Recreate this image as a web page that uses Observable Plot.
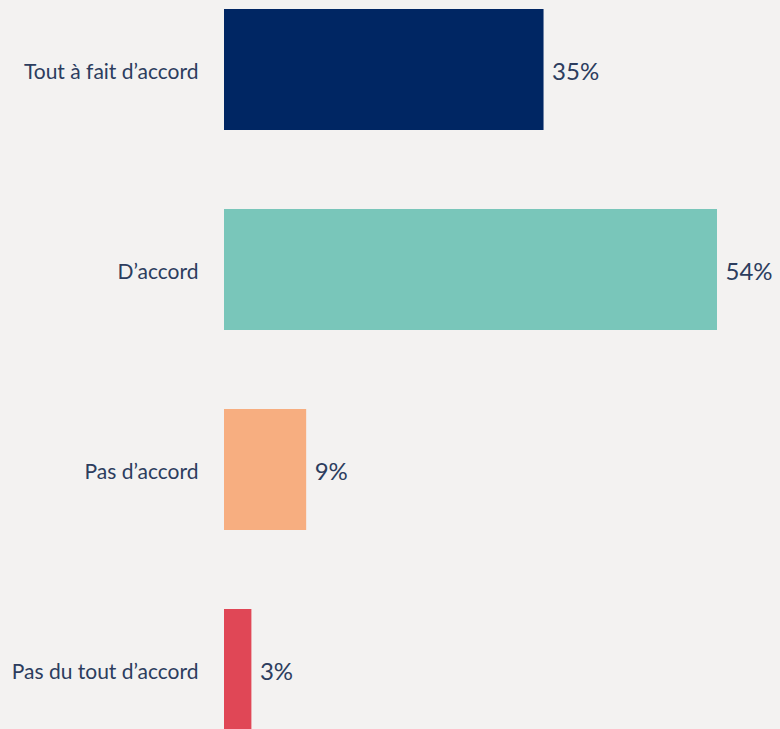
<!DOCTYPE html>
<html><head><meta charset="utf-8">
<script src="https://cdn.jsdelivr.net/npm/d3@7"></script>
<script src="https://cdn.jsdelivr.net/npm/@observablehq/plot@0.6"></script>
<style>
html,body{margin:0;padding:0;background:#f3f2f1;overflow:hidden;}
#chart svg{display:block;}
</style></head>
<body><div id="chart"></div>
<script>
const categories = ["Tout à fait d’accord", "D’accord", "Pas d’accord", "Pas du tout d’accord"];
const values = [35, 54, 9, 3];
const colors = ["#002663", "#79c6ba", "#f7ae80", "#e04756"];
const valueLabels = ["35%", "54%", "9%", "3%"];

const data = categories.map((c, i) => ({cat: c, value: values[i], label: valueLabels[i], color: colors[i]}));

const chart = Plot.plot({
  width: 780,
  height: 739,
  marginLeft: 224,
  marginRight: 63,
  marginTop: 0,
  marginBottom: 0,
  style: {background: "#f3f2f1", fontFamily: "Lato, sans-serif", color: "#2c3d5e"},
  x: {domain: [0, 54], axis: null},
  y: {domain: categories, paddingInner: 0.395, paddingOuter: 0.045, label: null},
  marks: [
    Plot.barX(data, {x: "value", y: "cat", fill: "color"}),
    Plot.text(data, {x: "value", y: "cat", text: "label", textAnchor: "start", dx: 8, dy: 2, fontSize: 24, fill: "#2c3d5e"}),
    Plot.axisY({tickSize: 0, tickPadding: 26, fontSize: 21, dy: 2, fill: "#2c3d5e", label: null})
  ]
});
document.getElementById("chart").append(chart);
</script></body></html>
